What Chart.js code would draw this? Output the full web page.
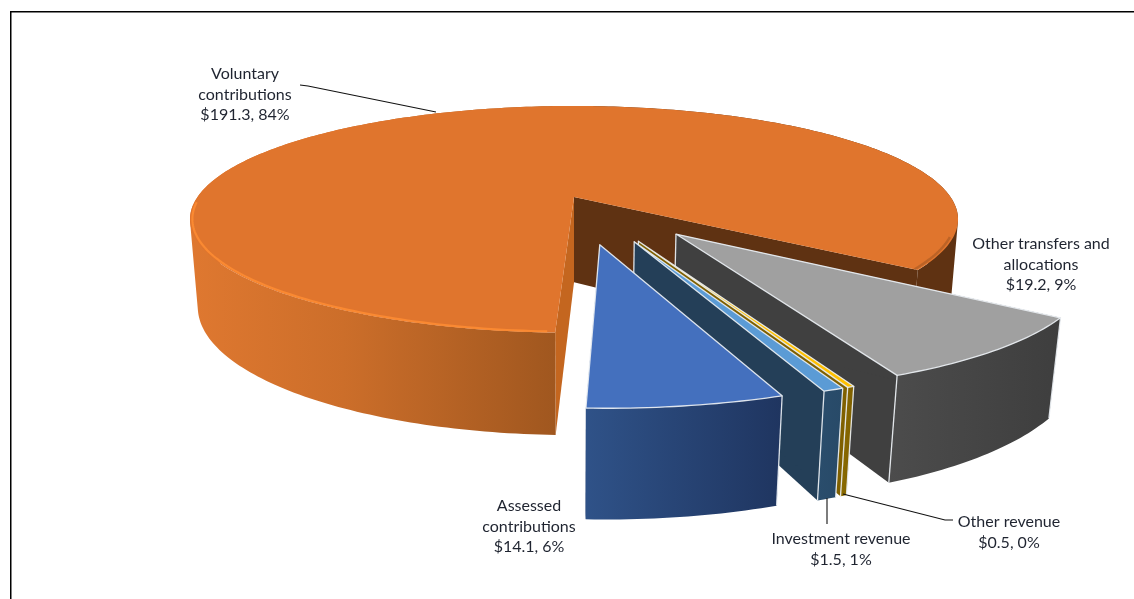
<!DOCTYPE html>
<html><head><meta charset="utf-8">
<script src="https://cdn.jsdelivr.net/npm/chart.js@4/dist/chart.umd.js"></script>
<style>html,body{margin:0;padding:0;background:#fff;overflow:hidden}canvas{display:block}</style>
</head><body><canvas id="c" width="1134" height="599"></canvas>
<script>
const categories = ['Assessed contributions','Voluntary contributions','Other transfers and allocations','Other revenue','Investment revenue'];
const amounts = [14.1,191.3,19.2,0.5,1.5];
const percentLabels = [6,84,9,0,1];

const labelLines = [['Assessed','contributions'],['Voluntary','contributions'],['Other transfers and','allocations'],['Other revenue'],['Investment revenue']];
const labelAnchors = [[529,506],[245,74],[1041,244],[1009,522],[841,539]];
const leaders = [[[300,85],[308,86],[436,112]],[[827,498],[827,524]],[[843,494],[945,520],[953,520]]];

const topColors = ['#4470BE','#E0752D','#A0A0A0','#FFC000','#5B9BD5'];
const wallColors = [['#223A66','#223A66'],['#C4661F','#5F3212'],['#404040','#404040'],['#7F6000','#7F6000'],['#243F58','#243F58']];
const outerStops = [
  [[0,'#2F5288'],[1,'#1F3560']],
  [[0,'#DF7830'],[0.2,'#CC6E2A'],[0.477,'#A0571F'],[0.478,'#5F3212'],[1,'#5F3212']],
  [[0,'#4C4C4C'],[1,'#3E3E3E']],
  [[0,'#8A6B00'],[1,'#7F6000']],
  [[0,'#2A4D6C'],[1,'#284A68']]
];

const cam = {cx:574, cy:197, rx:376.5, ry:109, p:0.197, q:0.02, h:87};
function project(u,v,bottom){
  const w = 1 - cam.p*v;
  if(!bottom) return [cam.cx + cam.rx*u/w, cam.cy + cam.ry*v/w];
  const ww = w + cam.q;
  return [cam.cx + cam.rx*u/ww, cam.cy + (cam.ry*v + cam.h)/ww];
}
function poly(ctx,pts){ctx.beginPath();pts.forEach((p,i)=>i?ctx.lineTo(p[0],p[1]):ctx.moveTo(p[0],p[1]));ctx.closePath();}
function line(ctx,pts){ctx.beginPath();pts.forEach((p,i)=>i?ctx.lineTo(p[0],p[1]):ctx.moveTo(p[0],p[1]));}
function area(q){let s=0;q.forEach((p,i)=>{const r=q[(i+1)%q.length];s+=p[0]*r[1]-r[0]*p[1];});return s;}

const pie3d = {
  id:'pie3d',
  beforeDatasetsDraw(chart){
    const ctx = chart.ctx, meta = chart.getDatasetMeta(0);
    const order = [1,2,3,4,0];
    order.forEach(i=>{
      const arc = meta.data[i], R = arc.outerRadius, a0 = arc.startAngle, a1 = arc.endAngle;
      const mid = (a0+a1)/2, off = (arc.options.offset||0)/R;
      const ou = off*Math.cos(mid), ov = off*Math.sin(mid);
      const rim = [], n = Math.max(2,Math.ceil((a1-a0)*180/Math.PI));
      for(let k=0;k<=n;k++){const a=a0+(a1-a0)*k/n;rim.push([ou+Math.cos(a),ov+Math.sin(a)]);}
      const top = rim.map(p=>project(p[0],p[1],false));
      const bot = rim.map(p=>project(p[0],p[1],true));
      const apexT = project(ou,ov,false), apexB = project(ou,ov,true);
      const last = n;
      ctx.save();
      ctx.lineJoin='round';
      // cut walls
      ctx.fillStyle = wallColors[i][1];
      poly(ctx,[apexT,top[last],bot[last],apexB]);ctx.fill();
      ctx.fillStyle = wallColors[i][0];
      poly(ctx,[apexT,top[0],bot[0],apexB]);ctx.fill();
      // outer wall: all steps in one path, wound alike, so there are no seams
      const xs = top.concat(bot).map(p=>p[0]);
      const g = ctx.createLinearGradient(Math.min(...xs),0,Math.max(...xs),0);
      outerStops[i].forEach(s=>g.addColorStop(s[0],s[1]));
      ctx.fillStyle = g;
      ctx.beginPath();
      for(let k=0;k<n;k++){
        let q=[top[k],top[k+1],bot[k+1],bot[k]];
        if(area(q)<0) q=q.reverse();
        q.forEach((p,j)=>j?ctx.lineTo(p[0],p[1]):ctx.moveTo(p[0],p[1]));
        ctx.closePath();
      }
      ctx.fill();
      // top face
      ctx.fillStyle = topColors[i];
      poly(ctx,[apexT].concat(top));ctx.fill();
      if(i===1){
        // soft bevel along the front rim
        ctx.strokeStyle = '#FA8932';ctx.lineWidth=2.2;
        const front = [];
        for(let k=0;k<=n;k++){const a=a0+(a1-a0)*k/n;
          const deg=((a*180/Math.PI)%360+360)%360;
          if(deg>=92.5&&deg<=178) front.push(project(ou+.994*Math.cos(a),ov+.994*Math.sin(a),false));}
        line(ctx,front);ctx.stroke();
        const right = [];
        for(let k=0;k<=n;k++){const a=a0+(a1-a0)*k/n;
          const deg=((a*180/Math.PI)%360+360)%360;
          if(deg>=20&&deg<=37) right.push(project(ou+.992*Math.cos(a),ov+.992*Math.sin(a),false));}
        ctx.strokeStyle='rgba(120,65,25,.35)';ctx.lineWidth=2.5;
        line(ctx,right);ctx.stroke();
      } else {
        ctx.strokeStyle='rgba(236,240,244,.92)';ctx.lineWidth=1.3;
        poly(ctx,[apexT].concat(top));ctx.stroke();
        line(ctx,[top[0],bot[0]]);ctx.stroke();
        if(i!==0){line(ctx,[top[last],bot[last]]);ctx.stroke();line(ctx,[apexT,apexB]);ctx.stroke();}
      }
      ctx.restore();
    });
    return false;
  },
  afterDraw(chart){
    const ctx = chart.ctx;
    ctx.save();
    ctx.strokeStyle='#000';ctx.lineWidth=1.5;
    ctx.beginPath();ctx.moveTo(10.75,599);ctx.lineTo(10.75,11.75);ctx.lineTo(1134,11.75);ctx.stroke();
    ctx.strokeStyle='#111';ctx.lineWidth=1.1;
    leaders.forEach(l=>{line(ctx,l);ctx.stroke();});
    ctx.fillStyle='#1f2430';ctx.font='16px Lato';ctx.textAlign='center';ctx.textBaseline='middle';
    categories.forEach((c,i)=>{
      const t = labelLines[i].concat(['$'+amounts[i].toFixed(1)+', '+percentLabels[i]+'%']);
      t.forEach((s,k)=>ctx.fillText(s,labelAnchors[i][0],labelAnchors[i][1]+k*20.5));
    });
    ctx.restore();
  }
};

new Chart(document.getElementById('c'),{
  type:'pie',
  data:{labels:categories,datasets:[{data:amounts,backgroundColor:topColors,offset:[98,0,98,98,98],borderWidth:0}]},
  options:{responsive:false,animation:false,rotation:159.9,layout:{padding:10},
    plugins:{legend:{display:false},tooltip:{enabled:false}}},
  plugins:[pie3d]
});
</script></body></html>
